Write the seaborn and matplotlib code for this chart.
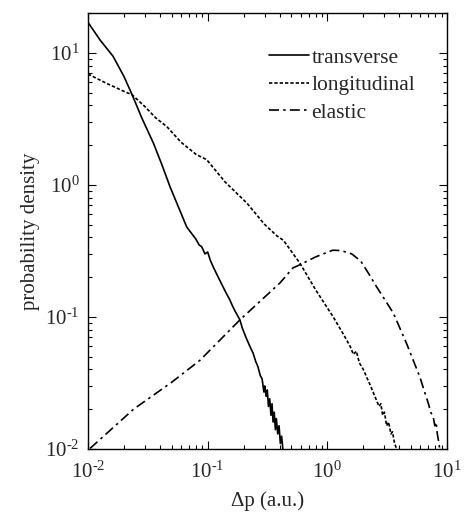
import numpy as np
import pandas as pd
import matplotlib
matplotlib.use("Agg")
import matplotlib.pyplot as plt
import matplotlib.ticker as mticker
import seaborn as sns

# ---- data ----
trans_x = [0.0100, 0.0126, 0.0162, 0.0200, 0.0234, 0.0282, 0.0352, 0.0417, 0.0484,
           0.0562, 0.0668, 0.0794, 0.0850, 0.0891, 0.0950, 0.100, 0.105, 0.111, 0.126,
           0.141, 0.153, 0.162, 0.170, 0.186, 0.195, 0.209, 0.225, 0.240, 0.252, 0.263,
           0.275, 0.285, 0.295, 0.300, 0.308, 0.315, 0.322, 0.330, 0.338, 0.345, 0.352,
           0.360, 0.368, 0.375, 0.385, 0.395, 0.405, 0.415, 0.425]
trans_y = [17.0, 12.5, 9.4, 6.6, 4.8, 3.2, 2.07, 1.40, 0.97,
           0.70, 0.48, 0.39, 0.35, 0.34, 0.30, 0.31, 0.27, 0.24, 0.19,
           0.155, 0.135, 0.12, 0.11, 0.095, 0.082, 0.070, 0.060, 0.053, 0.046, 0.042,
           0.036, 0.034, 0.027, 0.030, 0.025, 0.028, 0.021, 0.024, 0.018, 0.022, 0.016,
           0.019, 0.014, 0.017, 0.013, 0.015, 0.011, 0.0125, 0.0100]

long_x = [0.0100, 0.0141, 0.0200, 0.0234, 0.0300, 0.0370, 0.0454, 0.0600, 0.0800,
          0.0982, 0.140, 0.212, 0.300, 0.380, 0.430, 0.590, 0.800, 1.12, 1.35, 1.55,
          1.65, 1.75, 1.85, 2.00, 2.13, 2.30, 2.45, 2.57, 2.70, 2.80, 2.90, 3.00,
          3.13, 3.25, 3.40, 3.50, 3.65, 3.80]
long_y = [6.9, 5.9, 5.1, 4.8, 3.9, 3.2, 2.77, 2.1, 1.7,
          1.55, 1.05, 0.73, 0.50, 0.41, 0.38, 0.255, 0.16, 0.10, 0.075, 0.060,
          0.052, 0.055, 0.045, 0.040, 0.035, 0.030, 0.026, 0.0235, 0.021, 0.022, 0.018, 0.019,
          0.015, 0.016, 0.013, 0.0135, 0.011, 0.0100]

elas_x = [0.0104, 0.0240, 0.0500, 0.0863, 0.186, 0.400, 0.516, 0.600, 0.800, 1.11,
          1.30, 1.60, 1.90, 2.20, 2.57, 3.56, 4.59, 5.94, 6.50, 7.00, 7.30, 7.67, 7.90,
          8.10, 8.30, 8.50, 8.70]
elas_y = [0.0101, 0.0200, 0.032, 0.047, 0.095, 0.180, 0.235, 0.250, 0.285, 0.320,
          0.318, 0.300, 0.265, 0.215, 0.170, 0.107, 0.063, 0.035, 0.027, 0.022, 0.019,
          0.0176, 0.015, 0.016, 0.013, 0.0115, 0.0100]

labels = ["transverse", "longitudinal", "elastic"]

df = pd.concat([
    pd.DataFrame({"x": trans_x, "y": trans_y, "kind": labels[0]}),
    pd.DataFrame({"x": long_x, "y": long_y, "kind": labels[1]}),
    pd.DataFrame({"x": elas_x, "y": elas_y, "kind": labels[2]}),
], ignore_index=True)

sns.set_style("ticks")
plt.rcParams["font.family"] = ["Liberation Serif", "DejaVu Serif"]
plt.rcParams["mathtext.fontset"] = "custom"
plt.rcParams["mathtext.rm"] = "Liberation Serif"
plt.rcParams["mathtext.it"] = "Liberation Serif:italic"

fig = plt.figure(figsize=(4.69, 5.14), dpi=100)
ax = fig.add_axes([88 / 469, 1 - 449 / 514, (447 - 88) / 469, (449 - 13) / 514])

styles = {labels[0]: "-", labels[1]: (0, (2, 1.2)), labels[2]: (0, (6, 2.5, 1.5, 2.5))}
for lab in labels:
    sub = df[df["kind"] == lab]
    sns.lineplot(data=sub, x="x", y="y", ax=ax, color="black", lw=1.2,
                 linestyle=styles[lab], label=lab, sort=False, estimator=None)

ax.set_xscale("log")
ax.set_yscale("log")
ax.set_xlim(1e-2, 1e1)
ax.set_ylim(1e-2, 20)


def fmt(v, pos):
    e = int(round(np.log10(v)))
    if e < 0:
        return r"$\mathdefault{10^{\text{-}%d}}$" % (-e)
    return r"$\mathdefault{10^{%d}}$" % e


ax.xaxis.set_major_formatter(mticker.FuncFormatter(fmt))
ax.yaxis.set_major_formatter(mticker.FuncFormatter(fmt))
ax.tick_params(which="both", direction="in", top=True, right=True, labelsize=15,
               color="black", width=0.8)
ax.tick_params(which="major", length=6)
ax.tick_params(which="minor", length=3)
ax.tick_params(axis="x", pad=9)
ax.tick_params(axis="y", pad=6)
for s in ax.spines.values():
    s.set_linewidth(1.0)
    s.set_color("black")

ax.set_xlabel("Δp (a.u.)", fontsize=15, labelpad=6)
ax.set_ylabel("probability density", fontsize=15, labelpad=4)

leg = ax.legend(loc="upper right", frameon=False, fontsize=15.5, handlelength=1.85,
                handletextpad=0.1, labelspacing=0.34, borderaxespad=0.0,
                bbox_to_anchor=(0.935, 0.94))

fig.savefig("out.png", dpi=100)
